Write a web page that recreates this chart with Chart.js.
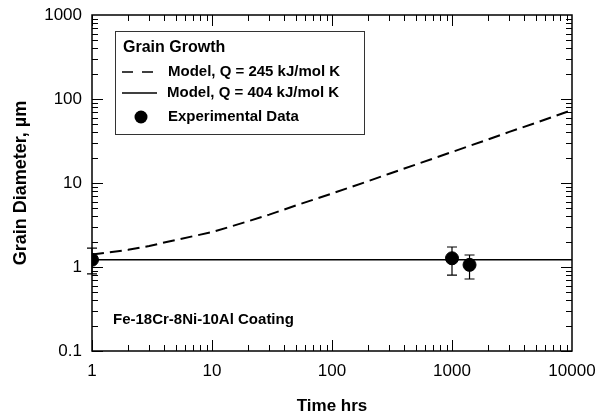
<!DOCTYPE html>
<html>
<head>
<meta charset="utf-8">
<script src="https://cdn.jsdelivr.net/npm/chart.js@4.4.1/dist/chart.umd.min.js"></script>
<style>
  html, body { margin: 0; padding: 0; background: #fff; }
  #wrap { width: 600px; height: 419px; position: relative; }
</style>
</head>
<body>
<div id="wrap"><canvas id="grainChart"></canvas></div>
<script>
// time (hrs) and modelled grain diameter (um)
const modelTime = [1, 2, 3, 5, 10, 20, 30, 50, 100, 200, 300, 500, 1000, 2000, 3000, 5000, 10000];
const modelQ245 = [1.41, 1.6, 1.78, 2.1, 2.6, 3.5, 4.2, 5.4, 7.5, 10.5, 12.9, 16.6, 23.4, 33, 40.6, 52, 74];
const flatTime = [1, 10000];
const modelQ404 = [1.22, 1.22];

// experimental points with error bars
const expTime = [1, 1000, 1400];
const expDiam = [1.22, 1.27, 1.06];
const expLow = [0.83, 0.80, 0.72];
const expHigh = [1.68, 1.73, 1.39];

const xTicks = [1, 10, 100, 1000, 10000];
const yTicks = [0.1, 1, 10, 100, 1000];

const legendTitle = 'Grain Growth';
const legendLabels = ['Model, Q = 245 kJ/mol K', 'Model, Q = 404 kJ/mol K', 'Experimental Data'];
const noteText = 'Fe-18Cr-8Ni-10Al Coating';

const fontName = '"Liberation Sans", Arial, sans-serif';
const ink = '#000';

const toPoints = function (xs, ys) {
    return xs.map(function (x, i) { return { x: x, y: ys[i] }; });
};

// frame, inward ticks, error bars, legend box and note
const decorPlugin = {
    id: 'decor',
    afterDatasetsDraw: function (chart) {
        const ctx = chart.ctx;
        const area = chart.chartArea;
        const xs = chart.scales.x;
        const ys = chart.scales.y;
        ctx.save();
        ctx.strokeStyle = ink;
        ctx.fillStyle = ink;

        // error bars
        ctx.lineWidth = 1.2;
        for (let i = 0; i < expTime.length; i++) {
            const px = xs.getPixelForValue(expTime[i]);
            const top = ys.getPixelForValue(expHigh[i]);
            const bot = ys.getPixelForValue(expLow[i]);
            ctx.beginPath();
            ctx.moveTo(px, top); ctx.lineTo(px, bot);
            ctx.moveTo(px - 5, top); ctx.lineTo(px + 5, top);
            ctx.moveTo(px - 5, bot); ctx.lineTo(px + 5, bot);
            ctx.stroke();
        }

        // frame
        ctx.lineWidth = 1.5;
        ctx.strokeRect(area.left, area.top, area.right - area.left, area.bottom - area.top);

        // ticks on all four sides, pointing inward
        ctx.lineWidth = 1;
        ctx.beginPath();
        for (let d = 0; d < 4; d++) {
            for (let m = 1; m <= 9; m++) {
                const v = Math.pow(10, d) * m;
                const px = Math.round(xs.getPixelForValue(v)) + 0.5;
                const len = m === 1 ? 11 : 6;
                ctx.moveTo(px, area.bottom); ctx.lineTo(px, area.bottom - len);
                ctx.moveTo(px, area.top); ctx.lineTo(px, area.top + len);
                const vy = Math.pow(10, d - 1) * m;
                const py = Math.round(ys.getPixelForValue(vy)) + 0.5;
                ctx.moveTo(area.left, py); ctx.lineTo(area.left + len, py);
                ctx.moveTo(area.right, py); ctx.lineTo(area.right - len, py);
            }
        }
        ctx.stroke();

        // legend box
        ctx.lineWidth = 1;
        ctx.strokeStyle = '#333';
        ctx.strokeRect(115.5, 31.5, 249, 103);
        ctx.strokeStyle = ink;
        ctx.textBaseline = 'middle';
        ctx.textAlign = 'left';
        ctx.font = 'bold 16px ' + fontName;
        ctx.fillText(legendTitle, 123, 48);
        ctx.font = 'bold 15px ' + fontName;

        ctx.lineWidth = 1.5;
        ctx.setLineDash([11, 9]);
        ctx.beginPath(); ctx.moveTo(122, 72); ctx.lineTo(154, 72); ctx.stroke();
        ctx.setLineDash([]);
        ctx.fillText(legendLabels[0], 168, 72);

        ctx.beginPath(); ctx.moveTo(122, 93); ctx.lineTo(157, 93); ctx.stroke();
        ctx.fillText(legendLabels[1], 167, 93);

        ctx.beginPath(); ctx.arc(141, 117, 6.5, 0, Math.PI * 2); ctx.fill();
        ctx.fillText(legendLabels[2], 168, 117);

        // note
        ctx.font = 'bold 15px ' + fontName;
        ctx.fillText(noteText, 113, 320);
        ctx.restore();
    }
};

new Chart(document.getElementById('grainChart'), {
    type: 'scatter',
    data: {
        datasets: [{
            data: toPoints(modelTime, modelQ245),
            showLine: true,
            borderColor: ink,
            borderWidth: 2,
            borderDash: [12, 6],
            pointRadius: 0,
            tension: 0,
            order: 3
        }, {
            data: toPoints(flatTime, modelQ404),
            showLine: true,
            borderColor: ink,
            borderWidth: 1.5,
            pointRadius: 0,
            order: 2
        }, {
            data: toPoints(expTime, expDiam),
            showLine: false,
            backgroundColor: ink,
            borderColor: ink,
            pointRadius: 6.5,
            order: 1
        }]
    },
    options: {
        responsive: true,
        maintainAspectRatio: false,
        animation: false,
        events: [],
        layout: { padding: { top: 15, right: 28, left: 0, bottom: 0 } },
        plugins: { legend: { display: false }, tooltip: { enabled: false } },
        scales: {
            x: {
                type: 'logarithmic',
                min: 1,
                max: 10000,
                afterBuildTicks: function (scale) {
                    scale.ticks = xTicks.map(function (v) { return { value: v }; });
                },
                afterFit: function (scale) {
                    scale.height = 68;
                    scale.paddingLeft = 0;
                    scale.paddingRight = 0;
                },
                ticks: {
                    color: ink,
                    font: { family: fontName, size: 17 },
                    padding: 10,
                    autoSkip: false,
                    maxRotation: 0,
                    minRotation: 0,
                    callback: function (value) { return String(value); }
                },
                grid: { display: false, drawTicks: false },
                border: { display: false },
                title: {
                    display: true,
                    text: 'Time hrs',
                    color: ink,
                    font: { family: fontName, size: 17, weight: 'bold' },
                    padding: { top: 10, bottom: 2 }
                }
            },
            y: {
                type: 'logarithmic',
                min: 0.1,
                max: 1000,
                afterBuildTicks: function (scale) {
                    scale.ticks = yTicks.map(function (v) { return { value: v }; });
                },
                afterFit: function (scale) {
                    scale.width = 92;
                    scale.paddingTop = 0;
                    scale.paddingBottom = 0;
                },
                ticks: {
                    color: ink,
                    font: { family: fontName, size: 17 },
                    padding: 10,
                    callback: function (value) { return String(value); }
                },
                grid: { display: false, drawTicks: false },
                border: { display: false },
                title: {
                    display: true,
                    text: 'Grain Diameter, µm',
                    color: ink,
                    font: { family: fontName, size: 18, weight: 'bold' },
                    padding: { top: 10, bottom: 0 }
                }
            }
        }
    },
    plugins: [decorPlugin]
});
</script>
</body>
</html>
